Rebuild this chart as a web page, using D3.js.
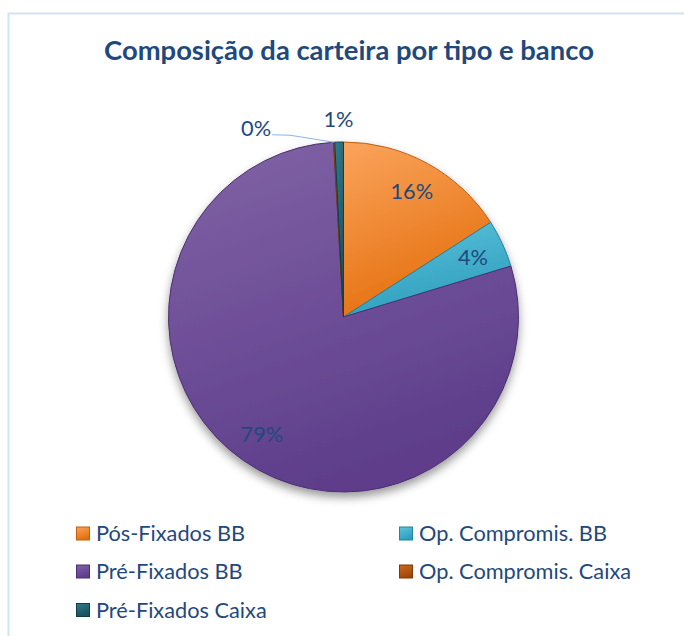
<!DOCTYPE html>
<html>
<head>
<meta charset="utf-8">
<script src="https://cdn.jsdelivr.net/npm/d3@7"></script>
<style>
  html, body { margin: 0; padding: 0; background: #fff; }
  svg { display: block; font-family: Lato, "Open Sans", sans-serif; }
</style>
</head>
<body>
<div id="chart"></div>
<script>
const title = "Composição da carteira por tipo e banco";
const categories = ["Pós-Fixados BB", "Op. Compromis. BB", "Pré-Fixados BB", "Op. Compromis. Caixa", "Pré-Fixados Caixa"];
const values = [15.9, 4.4, 78.8, 0.1, 0.8];
const lightColors = ["#FAA45C", "#5EC3DC", "#8163A6", "#CB6A1C", "#2F7C8E"];
const darkColors = ["#E5700F", "#2F9FBE", "#5E3E8B", "#A0470A", "#1A4F5C"];
const edgeColors = ["#C15F0C", "#24839D", "#4A2F70", "#7F3807", "#123C47"];

const width = 684, height = 636;
const cx = 343.5, cy = 317, radius = 175;

const svg = d3.select("#chart").append("svg")
    .attr("width", width)
    .attr("height", height);

const defs = svg.append("defs");

const shadow = defs.append("filter")
    .attr("id", "shadow")
    .attr("x", "-20%").attr("y", "-20%")
    .attr("width", "140%").attr("height", "140%");
shadow.append("feDropShadow")
    .attr("dx", 0).attr("dy", 5)
    .attr("stdDeviation", 5)
    .attr("flood-color", "#000")
    .attr("flood-opacity", 0.4);

categories.forEach((c, i) => {
  const g = defs.append("linearGradient")
      .attr("id", "grad" + i)
      .attr("x1", 0).attr("y1", 0).attr("x2", 0.35).attr("y2", 1);
  g.append("stop").attr("offset", "0%").attr("stop-color", lightColors[i]);
  g.append("stop").attr("offset", "100%").attr("stop-color", darkColors[i]);
});

// frame
svg.append("rect")
    .attr("x", 8.5).attr("y", 13.5)
    .attr("width", 720).attr("height", 700)
    .attr("fill", "none")
    .attr("stroke", "#D5E2F3")
    .attr("stroke-width", 2);

// title, fitted to the width it has in the picture
const titleText = svg.append("text")
    .attr("x", 349)
    .attr("y", 59.5)
    .attr("text-anchor", "middle")
    .attr("fill", "#1F497D")
    .style("font-weight", "bold")
    .style("font-size", "26px")
    .text(title);
const tw = titleText.node().getComputedTextLength();
titleText.style("font-size", (26 * 490 / tw) + "px");

const total = d3.sum(values);
const pct = v => Math.round(v / total * 100) + "%";

const pie = d3.pie().sort(null).value(d => d);
const arcs = pie(values);
const arc = d3.arc().innerRadius(0).outerRadius(radius);
const labelArc = d3.arc().innerRadius(radius * 0.815).outerRadius(radius * 0.815);
const outerArc = d3.arc().innerRadius(radius + 23).outerRadius(radius + 23);
const edgeArc = d3.arc().innerRadius(radius).outerRadius(radius);

const pieG = svg.append("g")
    .attr("transform", `translate(${cx},${cy})`);

pieG.append("g")
    .attr("filter", "url(#shadow)")
  .selectAll("path")
  .data(arcs)
  .join("path")
    .attr("d", arc)
    .attr("fill", (d, i) => `url(#grad${i})`)
    .attr("stroke", (d, i) => edgeColors[i])
    .attr("stroke-width", 1)
    .attr("stroke-linejoin", "round");

// labels
const labelFont = 19;
const labels = pieG.append("g")
    .attr("fill", "#1F497D")
    .style("font-size", labelFont + "px");

arcs.forEach((d, i) => {
  const share = d.value / total;
  if (share >= 0.02) {
    const [x, y] = labelArc.centroid(d);
    labels.append("text")
        .attr("x", x).attr("y", y)
        .attr("dy", "0.35em")
        .attr("text-anchor", "middle")
        .text(pct(d.value));
  } else if (i === arcs.length - 1) {
    const [x, y] = outerArc.centroid(d);
    labels.append("text")
        .attr("x", x).attr("y", y)
        .attr("dy", "0.35em")
        .attr("text-anchor", "middle")
        .text(pct(d.value));
  } else {
    // tiny slice: label off to the left with a leader line
    const [ex, ey] = edgeArc.centroid(d);
    const lx = ex - 62, ly = ey - 7.5;
    labels.append("path")
        .attr("d", d3.line()([[lx, ly], [lx + 18, ly + 0.5], [ex, ey]]))
        .attr("fill", "none")
        .attr("stroke", "#8EB4E3")
        .attr("stroke-width", 1.2);
    labels.append("text")
        .attr("x", lx - 1).attr("y", ly - 6)
        .attr("dy", "0.35em")
        .attr("text-anchor", "end")
        .text(pct(d.value));
  }
});

// legend
const legend = svg.append("g")
    .style("font-size", "19px")
    .attr("fill", "#1F497D");
const colX = [76, 399];
const rowY = [533.5, 571.5, 610];

const items = legend.selectAll("g")
  .data(categories)
  .join("g")
    .attr("transform", (d, i) => `translate(${colX[i % 2]},${rowY[Math.floor(i / 2)]})`);

items.append("rect")
    .attr("x", 0.5).attr("y", -6.5)
    .attr("width", 13).attr("height", 13)
    .attr("fill", (d, i) => `url(#grad${i})`)
    .attr("stroke", (d, i) => edgeColors[i])
    .attr("stroke-width", 1);

const legendTexts = items.append("text")
    .attr("x", 20)
    .attr("dy", "0.36em")
    .text(d => d);

// fit legend font so "Op. Compromis. BB" spans about 188px
const ref = legendTexts.filter((d, i) => i === 1).node().getComputedTextLength();
legend.style("font-size", (19 * 188 / ref) + "px");
labels.style("font-size", (19 * 188 / ref) + "px");
</script>
</body>
</html>
